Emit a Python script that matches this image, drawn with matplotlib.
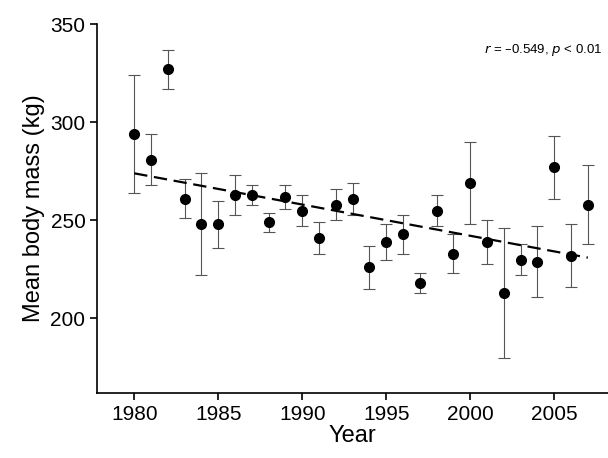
import numpy as np
import matplotlib
matplotlib.use("Agg")
import matplotlib.pyplot as plt

years = [1980, 1981, 1982, 1983, 1984, 1985, 1986, 1987, 1988, 1989, 1990, 1991, 1992, 1993,
         1994, 1995, 1996, 1997, 1998, 1999, 2000, 2001, 2002, 2003, 2004, 2005, 2006, 2007]
mass = [294, 281, 327, 261, 248, 248, 263, 263, 249, 262, 255, 241, 258, 261,
        226, 239, 243, 218, 255, 233, 269, 239, 213, 230, 229, 277, 232, 258]
err = [30, 13, 10, 10, 26, 12, 10, 5, 5, 6, 8, 8, 8, 8,
       11, 9, 10, 5, 8, 10, 21, 11, 33, 8, 18, 16, 16, 20]
trend_x = [1980, 2007]
trend_y = [274, 231]

plt.rcParams['font.family'] = ['Liberation Sans', 'DejaVu Sans']
fig = plt.figure(figsize=(6.08, 4.58), dpi=100)
ax = fig.add_axes([0.16, 0.142, 0.84, 0.805])

ax.errorbar(years, mass, yerr=err, fmt='o', color='black', ms=7,
            ecolor='#555555', elinewidth=0.8, capsize=4, capthick=0.8)
ax.plot(trend_x, trend_y, color='black', ls=(0, (6, 3)), lw=1.6)

ax.set_xlim(1977.8, 2008.2)
ax.set_ylim(162, 350)
ax.set_xticks([1980, 1985, 1990, 1995, 2000, 2005])
ax.set_yticks([200, 250, 300, 350])
ax.tick_params(labelsize=15, direction='out', length=5, width=1.2)
for s in ['left', 'bottom']:
    ax.spines[s].set_linewidth(1.2)
ax.spines['top'].set_visible(False)
ax.spines['right'].set_visible(False)
ax.set_xlabel('Year', fontsize=17, labelpad=1)
ax.set_ylabel('Mean body mass (kg)', fontsize=17)
ax.text(0.99, 0.93, r'$r$ = –0.549, $p$ < 0.01', transform=ax.transAxes,
        ha='right', va='center', fontsize=9.5)

fig.savefig('out.png')
